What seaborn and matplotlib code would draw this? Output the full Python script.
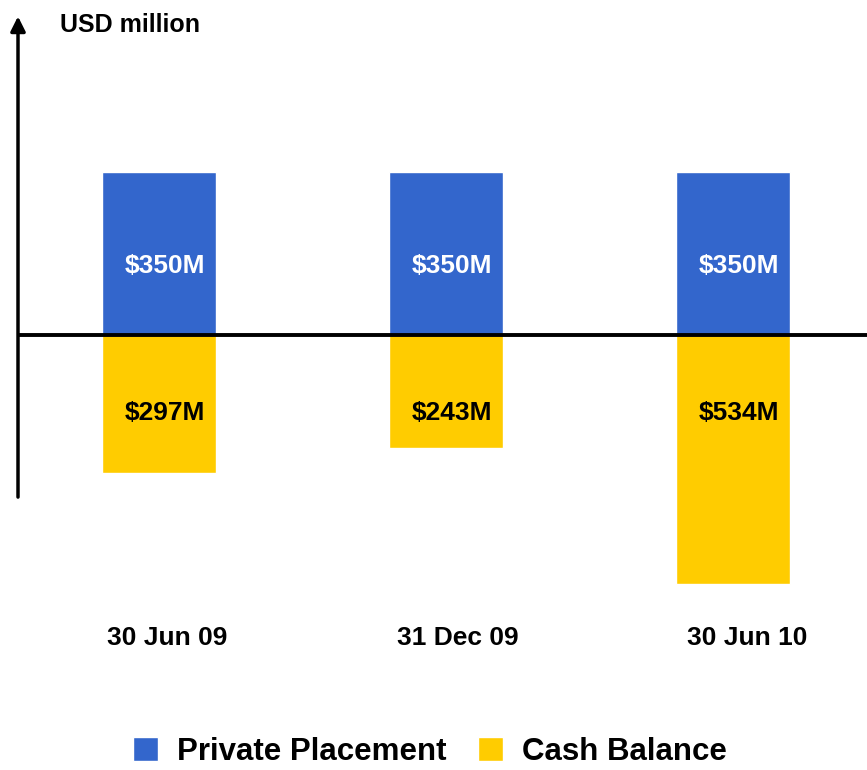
import matplotlib
matplotlib.use("Agg")
import matplotlib.pyplot as plt
import pandas as pd
import seaborn as sns

# data
dates = ["30 Jun 09", "31 Dec 09", "30 Jun 10"]
private_placement = [350, 350, 350]
cash_balance = [297, 243, 534]
series_names = ["Private Placement", "Cash Balance"]
colors = ["#3366CC", "#FFCC00"]

df = pd.DataFrame({
    "date": dates * 2,
    "value": private_placement + [-v for v in cash_balance],
    "series": [series_names[0]] * 3 + [series_names[1]] * 3,
})

sns.set_theme(style="white")
plt.rcParams["font.family"] = ["Liberation Sans", "DejaVu Sans"]
plt.rcParams["font.weight"] = "bold"
plt.rcParams["text.color"] = "black"

fig = plt.figure(figsize=(8.67, 7.70), dpi=100)
ax = fig.add_axes([18 / 867, 1 - 600 / 770, 1 - 18 / 867, 585 / 770])

sns.barplot(data=df, x="date", y="value", hue="series", palette=colors,
            dodge=False, width=0.4, saturation=1, ax=ax)
ax.get_legend().remove()

ax.set_xlim(-0.491, 2.467)
ax.set_ylim(-569, 687)
for s in ax.spines.values():
    s.set_visible(False)
ax.set_xticks([])
ax.set_yticks([])
ax.set_xlabel("")
ax.set_ylabel("")

# zero line and vertical arrow axis
ax.axhline(0, color="black", lw=2.8, zorder=5)
ax.annotate("", xy=(0, 690), xytext=(0, -354),
            xycoords=("axes fraction", "data"),
            arrowprops=dict(arrowstyle="-|>", color="black", lw=2.5,
                            mutation_scale=22), annotation_clip=False)
fig.text(60 / 867, 1 - 25 / 770, "USD million", fontsize=18,
         fontweight="bold", va="center", ha="left", color="black")

# value labels
for i in range(len(dates)):
    ax.text(i + 0.02, 148, f"${private_placement[i]}M", color="white",
            fontsize=19, fontweight="bold", ha="center", va="center")
    ax.text(i + 0.02, -168, f"${cash_balance[i]}M", color="black",
            fontsize=19, fontweight="bold", ha="center", va="center")
    ax.text(i + 0.03 + 0.01 * i, -(638 - 335) / 0.4657, dates[i], color="black",
            fontsize=19, fontweight="bold", ha="center", va="center")

handles, labels = ax.get_legend_handles_labels()
leg = fig.legend(handles, labels, loc="center", bbox_to_anchor=(0.496, 0.023),
                 ncol=2, frameon=False, handlelength=0.8,
                 handleheight=0.8, handletextpad=0.6, columnspacing=1.0,
                 borderpad=0, prop={"weight": "bold", "size": 22.5})
for t in leg.get_texts():
    t.set_color("black")

fig.savefig("out.png", dpi=100)
